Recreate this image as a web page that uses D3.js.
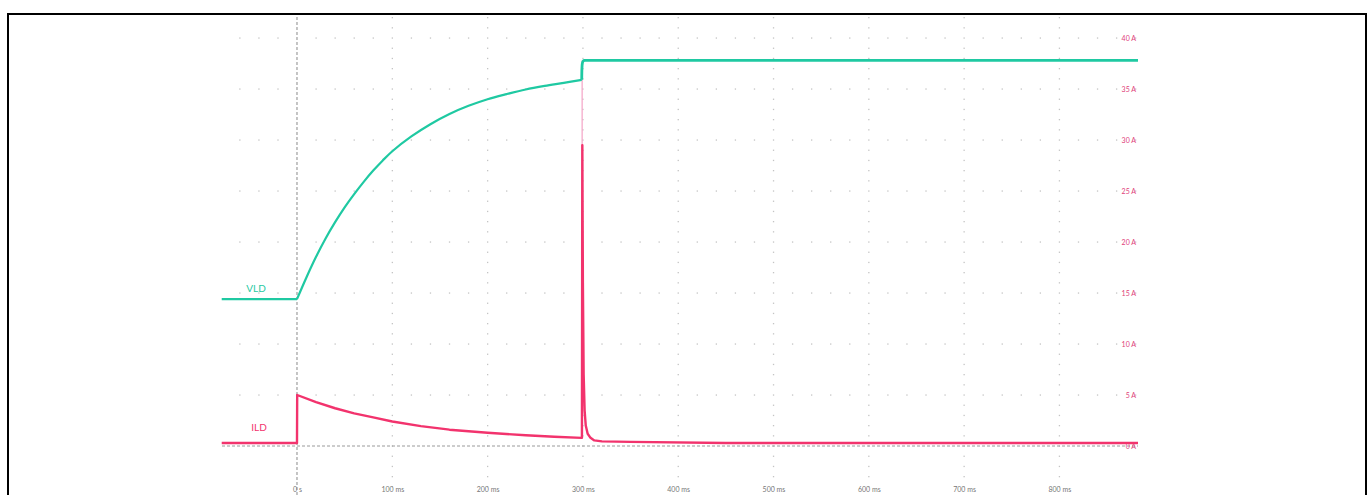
<!DOCTYPE html>
<html><head><meta charset="utf-8">
<script src="https://cdn.jsdelivr.net/npm/d3@7"></script>
<style>html,body{margin:0;padding:0;background:#fff;overflow:hidden}</style>
</head><body>
<svg id="c" width="1371" height="495"></svg>
<script>
// ---- data (time in ms, values in A-axis units) ----
const xTicks = [0,100,200,300,400,500,600,700,800];
const yTicks = [0,5,10,15,20,25,30,35,40];
const vldTime  = [-79,0,10,20,30,40,50,60,70,80,90,100,120,140,160,180,200,220,240,260,280,298.8];
const vldValue = [14.4,14.4,16.55,18.55,20.35,21.95,23.4,24.7,25.9,27.0,28.0,28.9,30.35,31.55,32.55,33.35,34.0,34.5,34.95,35.3,35.6,35.9];
const vldJumpTime  = [298.8,299.0,299.4,300.2,301.5,304,882.5];
const vldJumpValue = [35.9,37.0,37.5,37.72,37.8,37.8,37.8];
const ildTime  = [-79,0,0.2,20,40,60,80,100,130,160,200,240,270,298.8,299.0,299.4,300.0,300.8,301.8,303,305,308,312,320,350,450,882.5];
const ildValue = [0.3,0.3,5.0,4.3,3.7,3.2,2.8,2.4,1.95,1.6,1.3,1.05,0.9,0.8,0.8,29.5,16,7,3.5,2.0,1.2,0.8,0.55,0.45,0.4,0.3,0.3];
const spikeTime  = [299.2,299.2];
const spikeValue = [0.8,37.8];
const seriesLabels = ["VLD","ILD"];

const svg = d3.select("#c");
const X0=222, X1=1138, TOP=17, BOT=495;
const x = d3.scaleLinear().domain([-78.7,882.5]).range([X0,X1]);
const y = d3.scaleLinear().domain([0,40]).range([446,38]);
const teal="#1fc9a2", pink="#f2336d", grid="#c4c4c4";
const font="Lato, 'Open Sans', sans-serif";

// border
svg.append("rect").attr("x",8).attr("y",14).attr("width",1358).attr("height",500)
  .attr("fill","none").attr("stroke","#000").attr("stroke-width",2);

const g = svg.append("g");
// dotted grid rows (every 5 A, dots every 20 ms)
const minorT = d3.range(-60,881,20);
yTicks.filter(v=>v!==0).forEach(v=>{
  minorT.filter(t=>t!==0 && t%100!==0).forEach(t=>{
    g.append("rect").attr("x",x(t)-0.6).attr("y",y(v)-0.6).attr("width",1.3).attr("height",1.3).attr("fill",grid);
  });
});
// dotted grid columns (every 100 ms, dots every 1 A)
const minorA = d3.range(-4,44,1);
xTicks.filter(t=>t!==0).forEach(t=>{
  minorA.forEach(a=>{
    const yy=y(a); if(yy<TOP||yy>BOT) return;
    g.append("rect").attr("x",x(t)-0.6).attr("y",yy-0.6).attr("width",1.3).attr("height",1.3).attr("fill",grid);
  });
});
// dashed reference lines
g.append("line").attr("x1",x(0)).attr("x2",x(0)).attr("y1",TOP).attr("y2",BOT)
  .attr("stroke","#8a8a8a").attr("stroke-width",1).attr("stroke-dasharray","3,2");
g.append("line").attr("x1",X0).attr("x2",X1).attr("y1",y(0)).attr("y2",y(0))
  .attr("stroke","#9a9a9a").attr("stroke-width",1).attr("stroke-dasharray","3,2");

// right axis labels
const ay = d3.axisLeft(y).tickValues(yTicks).tickSize(0).tickPadding(2).tickFormat(d=>d+" A");
const ag = svg.append("g").attr("transform",`translate(${X1},0)`).call(ay);
ag.select(".domain").remove();
ag.selectAll("text").attr("fill","#e0407a").attr("font-family",font).attr("font-size",7);

// bottom axis labels
const ax = d3.axisBottom(x).tickValues(xTicks).tickSize(0).tickPadding(0).tickFormat(d=>d===0?"0 s":d+" ms");
const bg = svg.append("g").attr("transform",`translate(0,487)`).call(ax);
bg.select(".domain").remove();
bg.selectAll("text").attr("fill","#777").attr("font-family",font).attr("font-size",7);

const lin = d3.line().x(d=>x(d[0])).y(d=>y(d[1]));
const smooth = d3.line().x(d=>x(d[0])).y(d=>y(d[1])).curve(d3.curveCatmullRom.alpha(0.5));
// spike envelope (thin light pink)
svg.append("path").datum(d3.zip(spikeTime,spikeValue)).attr("d",lin)
  .attr("fill","none").attr("stroke","#f4a3c6").attr("stroke-width",1.2);
// VLD
const vldPts = d3.zip(vldTime,vldValue);
svg.append("path").datum(vldPts.slice(0,2)).attr("d",lin)
  .attr("fill","none").attr("stroke",teal).attr("stroke-width",2.2);
svg.append("path").datum(vldPts.slice(1)).attr("d",smooth)
  .attr("fill","none").attr("stroke",teal).attr("stroke-width",2.2).attr("stroke-linejoin","round");
svg.append("path").datum(d3.zip(vldJumpTime,vldJumpValue)).attr("d",smooth)
  .attr("fill","none").attr("stroke",teal).attr("stroke-width",2.8).attr("stroke-linejoin","round");
// ILD
svg.append("path").datum(d3.zip(ildTime,ildValue)).attr("d",lin)
  .attr("fill","none").attr("stroke",pink).attr("stroke-width",2.4).attr("stroke-linejoin","round");

// series labels
svg.append("text").attr("x",256).attr("y",292).attr("text-anchor","middle").text(seriesLabels[0])
  .attr("fill",teal).attr("font-family",font).attr("font-size",10);
svg.append("text").attr("x",259).attr("y",431).attr("text-anchor","middle").text(seriesLabels[1])
  .attr("fill",pink).attr("font-family",font).attr("font-size",10);
</script>
</body></html>
